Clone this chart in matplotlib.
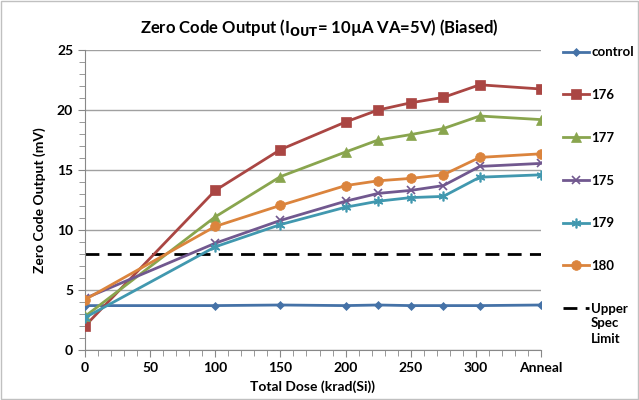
import matplotlib
matplotlib.use("Agg")
import matplotlib.pyplot as plt
from matplotlib.patches import Rectangle
from matplotlib.ticker import MultipleLocator, FixedLocator

plt.rcParams["font.family"] = ["Lato", "DejaVu Sans"]

# dose positions (Anneal drawn at 350)
DOSE = [0, 100, 150, 200, 225, 250, 275, 303, 350]
TICK_POS = [0, 50, 100, 150, 200, 250, 300, 350]
TICK_LABELS = ["0", "50", "100", "150", "200", "250", "300", "Anneal"]

CONTROL = [3.7, 3.7, 3.75, 3.7, 3.75, 3.7, 3.7, 3.7, 3.75]
S176 = [2.0, 13.3, 16.7, 19.0, 20.0, 20.6, 21.05, 22.1, 21.75]
S177 = [2.8, 11.1, 14.45, 16.5, 17.5, 17.95, 18.45, 19.5, 19.2]
S175 = [4.3, 8.9, 10.8, 12.4, 13.05, 13.3, 13.7, 15.3, 15.55]
S179 = [2.7, 8.6, 10.45, 11.9, 12.4, 12.7, 12.8, 14.4, 14.6]
S180 = [4.2, 10.3, 12.05, 13.7, 14.1, 14.3, 14.6, 16.05, 16.35]
SPEC_LIMIT = 8

SERIES = [
    ("control", CONTROL, "#4572A7", "D", 4),
    ("176", S176, "#AA4643", "s", 7),
    ("177", S177, "#89A54E", "^", 7),
    ("175", S175, "#71588F", "x", 6),
    ("179", S179, "#4198AF", (6, 2, 0), 7),
    ("180", S180, "#DB843D", "o", 7),
]

fig = plt.figure(figsize=(6.39, 4.0), dpi=100)
ax = fig.add_axes([85 / 639, 50 / 400, 456 / 639, 300 / 400])

for label, vals, color, marker, ms in SERIES:
    ax.plot(DOSE, vals, color=color, lw=2, marker=marker, ms=ms,
            mew=1.2 if marker in ("x",) or isinstance(marker, tuple) else 0.5,
            mec=color, label=label, zorder=3)

ax.plot([0, 350], [SPEC_LIMIT, SPEC_LIMIT], color="black", lw=2,
        ls=(0, (5, 3)), label="Upper", zorder=2)

ax.set_xlim(0, 350)
ax.set_ylim(0, 25)
ax.xaxis.set_major_locator(FixedLocator(TICK_POS))
ax.set_xticklabels(TICK_LABELS)
ax.xaxis.set_minor_locator(MultipleLocator(10))
ax.yaxis.set_major_locator(MultipleLocator(5))
ax.yaxis.set_minor_locator(MultipleLocator(1))
ax.grid(axis="y", which="major", color="#A0A0A0", lw=1)
ax.set_axisbelow(True)

for side in ("top", "right"):
    ax.spines[side].set_visible(False)
for side in ("left", "bottom"):
    ax.spines[side].set_color("#888888")
ax.tick_params(which="both", direction="out", color="#888888", labelsize=10)
ax.tick_params(which="major", length=5)
ax.tick_params(which="minor", length=4)
for lbl in ax.get_xticklabels() + ax.get_yticklabels():
    lbl.set_fontweight("bold")

ax.set_xlabel("Total Dose (krad(Si))", fontsize=10, fontweight="bold", labelpad=5)
ax.set_ylabel("Zero Code Output (mV)", fontsize=10, fontweight="bold", labelpad=8)
fig.text(0.5, 0.93, r"Zero Code Output (I$_{\mathbf{OUT}}$= 10µA VA=5V) (Biased)",
         ha="center", va="center", fontsize=12, fontweight="bold")

leg = ax.legend(loc="upper left", bbox_to_anchor=(1.036, 1.03), frameon=False,
                fontsize=9.5, labelspacing=2.33, handlelength=2.0,
                handletextpad=0.15, borderaxespad=0)
for t in leg.get_texts():
    t.set_fontweight("bold")

# rest of the spec-limit label, under "Upper"
fig.canvas.draw()
bb = leg.get_texts()[-1].get_window_extent().transformed(fig.transFigure.inverted())
fig.text(bb.x0, bb.y0 - 0.005, "Spec\nLimit", ha="left", va="top",
         fontsize=9.5, fontweight="bold", linespacing=1.45)

fig.patches.append(Rectangle((0.001, 0.002), 0.997, 0.996, transform=fig.transFigure,
                             fill=False, edgecolor="#C0C0C0", lw=1))

fig.savefig("out.png", dpi=100)
